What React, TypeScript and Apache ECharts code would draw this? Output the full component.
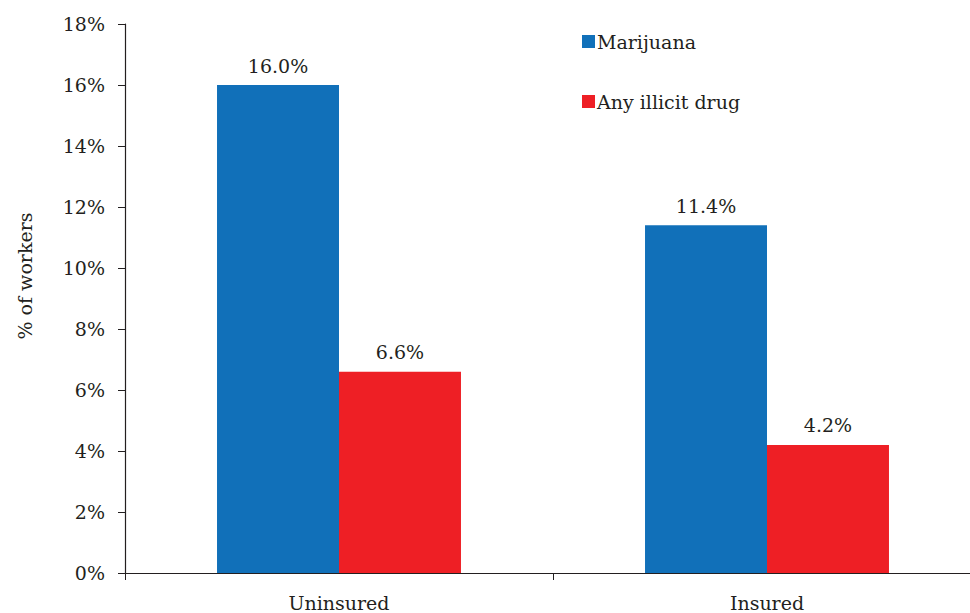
import React, { useEffect, useRef } from "react";
import * as echarts from "echarts";

const categories = ["Uninsured", "Insured"];
const marijuana = [16.0, 11.4];
const anyIllicitDrug = [6.6, 4.2];
const yTicks = { min: 0, max: 18, interval: 2 };

const FONT = "DejaVu Serif";
const TEXT = "#231F20";
const SIZE = 19;

export default function App() {
  const ref = useRef<HTMLDivElement>(null);

  useEffect(() => {
    if (!ref.current) return;
    const chart = echarts.init(ref.current, undefined, { renderer: "svg" });
    const label = {
      show: true,
      position: "top" as const,
      distance: 10,
      fontFamily: FONT,
      fontSize: SIZE,
      color: TEXT,
      formatter: (p: any) => `${Number(p.value).toFixed(1)}%`,
    };
    chart.setOption({
      animation: false,
      backgroundColor: "#fff",
      textStyle: { fontFamily: FONT },
      // the plot runs a little past the visible right edge
      grid: { left: 125, right: 0, top: 24, bottom: 40, containLabel: false },
      legend: {
        orient: "vertical",
        left: 577,
        top: 27,
        itemWidth: 13,
        itemHeight: 13,
        itemGap: 41,
        icon: "rect",
        textStyle: { fontFamily: FONT, fontSize: SIZE, color: TEXT, padding: [0, 0, 0, -3] },
        data: ["Marijuana", "Any illicit drug"],
      },
      xAxis: {
        type: "category",
        data: categories,
        axisLine: { lineStyle: { color: "#231F20", width: 1.2 } },
        axisTick: { show: true, length: 7, lineStyle: { color: "#231F20" } },
        axisLabel: { fontFamily: FONT, fontSize: SIZE, color: TEXT, margin: 20 },
      },
      yAxis: {
        type: "value",
        min: yTicks.min,
        max: yTicks.max,
        interval: yTicks.interval,
        axisLine: { show: true, lineStyle: { color: "#231F20", width: 1.2 } },
        axisTick: { show: true, length: 7, lineStyle: { color: "#231F20" } },
        splitLine: { show: false },
        axisLabel: {
          fontFamily: FONT,
          fontSize: SIZE,
          color: TEXT,
          margin: 20,
          formatter: (v: number) => `${v}%`,
        },
      },
      graphic: [
        {
          type: "text",
          x: 15,
          y: 276,
          rotation: Math.PI / 2,
          style: {
            text: "% of workers",
            fontFamily: FONT,
            fontSize: SIZE,
            fill: TEXT,
            align: "center",
            verticalAlign: "top",
          },
        },
      ],
      series: [
        {
          name: "Marijuana",
          type: "bar",
          data: marijuana,
          barGap: "0%",
          barCategoryGap: "43%",
          itemStyle: { color: "#1170B9" },
          label,
        },
        {
          name: "Any illicit drug",
          type: "bar",
          data: anyIllicitDrug,
          itemStyle: { color: "#EE1F25" },
          label,
        },
      ],
    });
    return () => chart.dispose();
  }, []);

  return (
    <div
      style={{
        position: "fixed",
        left: 0,
        top: 0,
        width: 970,
        height: 613,
        overflow: "hidden",
        background: "#fff",
      }}
    >
      <div ref={ref} style={{ width: 981, height: 613 }} />
    </div>
  );
}
